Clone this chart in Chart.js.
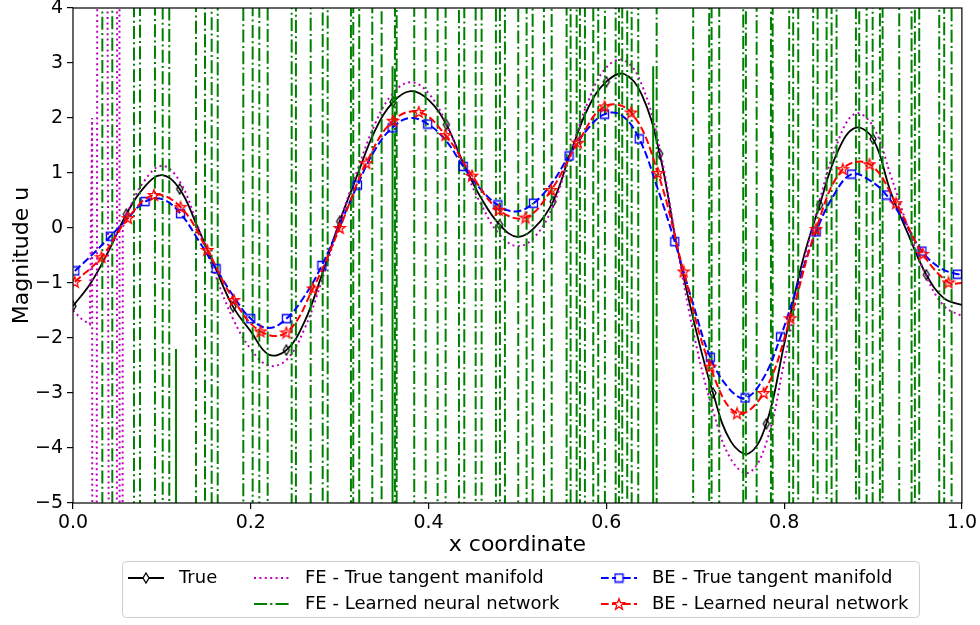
<!DOCTYPE html>
<html>
<head>
<meta charset="utf-8">
<script src="https://cdn.jsdelivr.net/npm/chart.js@4.4.1/dist/chart.umd.min.js"></script>
<style>
  html, body { margin: 0; padding: 0; background: #fff; }
  #wrap { width: 980px; height: 625px; }
</style>
</head>
<body>
<div id="wrap"><canvas id="chart" width="980" height="625"></canvas></div>
<script>
// Solution profiles u(x) - true solution vs FE / BE integrators

// True solution (black, thin diamonds every 3rd point)
const trueX = [0.00, 0.02, 0.04, 0.06, 0.08, 0.10, 0.12, 0.14, 0.16, 0.18,
               0.20, 0.22, 0.24, 0.26, 0.28, 0.30, 0.32, 0.34, 0.36, 0.38,
               0.40, 0.42, 0.44, 0.46, 0.48, 0.50, 0.52, 0.54, 0.56, 0.58,
               0.60, 0.62, 0.64, 0.66, 0.68, 0.70, 0.72, 0.74, 0.76, 0.78,
               0.80, 0.82, 0.84, 0.86, 0.88, 0.90, 0.92, 0.94, 0.96, 0.98, 1.00];
const trueY = [-1.42, -1.00, -0.42, 0.25, 0.74, 0.96, 0.71, 0.02, -0.72, -1.43,
               -1.88, -2.30, -2.22, -1.72, -0.85, 0.12, 0.97, 1.78, 2.29, 2.49,
               2.33, 1.88, 1.15, 0.52, 0.06, -0.16, 0.02, 0.48, 1.38, 2.20,
               2.66, 2.80, 2.42, 1.35, -0.37, -1.80, -3.00, -3.88, -4.10, -3.56,
               -2.12, -0.65, 0.42, 1.38, 1.82, 1.62, 0.65, -0.13, -0.85, -1.28, -1.40];

// FE - true tangent manifold (magenta dotted): spurious spikes near the left boundary
const fetSpikeX = [0.000, 0.010, 0.019, 0.0215, 0.023, 0.031, 0.0478, 0.0512, 0.0535, 0.056, 0.060];
const fetSpikeY = [-1.50, -1.66, -1.75, 2.00, -60, 60, -60, 60, -60, 0.00, 0.25];
const fetX = [0.06, 0.08, 0.10, 0.12, 0.14, 0.16, 0.18, 0.20, 0.22, 0.24,
              0.26, 0.28, 0.30, 0.32, 0.34, 0.36, 0.38, 0.40, 0.42, 0.44,
              0.46, 0.48, 0.50, 0.52, 0.54, 0.56, 0.58, 0.60, 0.62, 0.64,
              0.66, 0.68, 0.70, 0.72, 0.74, 0.76, 0.78, 0.80, 0.82, 0.84,
              0.86, 0.88, 0.90, 0.92, 0.94, 0.96, 0.98, 1.00];
const fetY = [0.25, 0.85, 1.13, 0.85, 0.05, -0.85, -1.65, -2.20, -2.50, -2.40,
              -1.85, -0.95, 0.10, 1.05, 1.90, 2.45, 2.65, 2.45, 1.90, 1.10,
              0.40, -0.12, -0.33, -0.15, 0.40, 1.38, 2.32, 2.92, 3.05, 2.60,
              1.45, -0.38, -2.05, -3.32, -4.20, -4.45, -3.90, -2.45, -0.80, 0.50,
              1.55, 2.08, 1.85, 0.95, -0.02, -0.88, -1.42, -1.60];

// FE - learned neural network (green dash-dot): blows up, every sign flip crosses the whole axis
const felX = [0.0330, 0.0442, 0.0686, 0.0754, 0.0922, 0.1009, 0.1083, 0.1384, 0.1485, 0.1560,
              0.1628, 0.1916, 0.2021, 0.2096, 0.2190, 0.2460, 0.2508, 0.2674, 0.2809, 0.2865,
              0.3127, 0.3153, 0.3220, 0.3367, 0.3472, 0.3622, 0.3641, 0.3839, 0.3967, 0.4102,
              0.4192, 0.4342, 0.4402, 0.4530, 0.4597, 0.4758, 0.4803, 0.4859, 0.5009, 0.5103,
              0.5171, 0.5298, 0.5385, 0.5553, 0.5598, 0.5666, 0.5703, 0.5759, 0.5853, 0.5909,
              0.5984, 0.6105, 0.6142, 0.6179, 0.6235, 0.6285, 0.6359, 0.6566, 0.6977, 0.7157,
              0.7184, 0.7270, 0.7540, 0.7570, 0.7691, 0.7852, 0.7871, 0.8057, 0.8102, 0.8159,
              0.8327, 0.8377, 0.8478, 0.8534, 0.8590, 0.8808, 0.8845, 0.8928, 0.8996, 0.9078,
              0.9108, 0.9295, 0.9434, 0.9471, 0.9520, 0.9745, 0.9801, 0.9884];
const felBlowUp = 60;            // magnitude far outside the plotted range
const felPartialX = [0.1159, 0.3595, 0.6527];
const felPartialY = [-2.20, 2.94, 2.94];

// BE - true tangent manifold (blue dashed, squares on even points)
const betX = [0.002, 0.022, 0.042, 0.062, 0.081, 0.101, 0.121, 0.141, 0.161, 0.181,
              0.200, 0.220, 0.240, 0.260, 0.280, 0.300, 0.320, 0.339, 0.359, 0.379,
              0.399, 0.419, 0.439, 0.459, 0.478, 0.498, 0.518, 0.538, 0.558, 0.578,
              0.598, 0.617, 0.637, 0.657, 0.677, 0.697, 0.717, 0.737, 0.756, 0.776,
              0.796, 0.816, 0.836, 0.856, 0.876, 0.895, 0.915, 0.935, 0.955, 0.975,
              0.995, 1.000];
const betY = [-0.78, -0.48, -0.15, 0.18, 0.48, 0.52, 0.26, -0.22, -0.74, -1.25,
              -1.65, -1.82, -1.65, -1.25, -0.68, 0.05, 0.78, 1.40, 1.82, 2.00,
              1.89, 1.60, 1.12, 0.70, 0.42, 0.30, 0.45, 0.80, 1.31, 1.78,
              2.07, 2.05, 1.62, 0.75, -0.25, -1.35, -2.35, -2.90, -3.09, -2.75,
              -1.98, -1.00, -0.07, 0.60, 0.98, 0.88, 0.60, 0.12, -0.42, -0.72,
              -0.84, -0.82];

// BE - learned neural network (red dashed, stars)
const belX = [0.002, 0.032, 0.062, 0.091, 0.121, 0.151, 0.181, 0.211, 0.240, 0.270,
              0.300, 0.330, 0.360, 0.389, 0.419, 0.449, 0.479, 0.509, 0.538, 0.568,
              0.598, 0.628, 0.658, 0.687, 0.717, 0.747, 0.777, 0.807, 0.836, 0.866,
              0.896, 0.926, 0.956, 0.985, 1.000];
const belY = [-0.98, -0.53, 0.18, 0.60, 0.38, -0.40, -1.31, -1.88, -1.90, -1.10,
              0.00, 1.18, 1.95, 2.11, 1.69, 0.95, 0.33, 0.19, 0.69, 1.55,
              2.21, 2.10, 1.00, -0.79, -2.52, -3.37, -3.00, -1.64, -0.02, 1.07,
              1.16, 0.45, -0.47, -0.99, -1.00];

const legendLabels = ['True', 'FE - True tangent manifold', 'FE - Learned neural network',
                      'BE - True tangent manifold', 'BE - Learned neural network'];

const FONT = '"DejaVu Sans", sans-serif';
Chart.defaults.font.family = FONT;
Chart.defaults.color = '#000';

function toPoints(xs, ys) {
    return xs.map((x, i) => ({ x: x, y: ys[i] }));
}

// FE learned: consecutive points jump between +blowup and -blowup at the same x
function blowUpPoints(xs, mag) {
    const pts = [];
    xs.forEach((x, i) => {
        const s = i % 2 === 0 ? 1 : -1;
        pts.push({ x: x, y: s * mag });
        pts.push({ x: x, y: -s * mag });
    });
    return pts;
}

function partialPoints(xs, ys, mag) {
    const pts = [];
    xs.forEach((x, i) => {
        pts.push({ x: x, y: ys[i] });
        pts.push({ x: x, y: -mag });
        pts.push({ x: x, y: null });
    });
    return pts;
}

// hollow marker images (matplotlib style)
function makeMarker(kind, color) {
    const c = document.createElement('canvas');
    const size = kind === 'star' ? 14 : (kind === 'diamond' ? 12 : 11);
    c.width = size; c.height = size;
    const g = c.getContext('2d');
    g.strokeStyle = color;
    g.lineWidth = 1.3;
    g.beginPath();
    const m = size / 2;
    if (kind === 'diamond') {
        g.moveTo(m, m - 5); g.lineTo(m + 3, m); g.lineTo(m, m + 5); g.lineTo(m - 3, m);
    } else if (kind === 'square') {
        g.rect(m - 4, m - 4, 8, 8);
    } else {
        for (let k = 0; k < 10; k++) {
            const r = k % 2 === 0 ? 5.8 : 2.4;
            const a = -Math.PI / 2 + k * Math.PI / 5;
            const px = m + r * Math.cos(a), py = m + 0.5 + r * Math.sin(a);
            if (k === 0) g.moveTo(px, py); else g.lineTo(px, py);
        }
    }
    g.closePath();
    g.stroke();
    return c;
}

const diamondImg = makeMarker('diamond', '#000000');
const squareImg = makeMarker('square', '#0000ff');
const starImg = makeMarker('star', '#ff0000');

const legendEntries = [
    { label: legendLabels[0], col: 0, row: 0, color: '#000000', dash: [], marker: diamondImg },
    { label: legendLabels[1], col: 1, row: 0, color: '#bf00bf', dash: [2, 3.4], marker: null },
    { label: legendLabels[2], col: 1, row: 1, color: '#008000', dash: [13, 3.3, 2, 3.3], marker: null },
    { label: legendLabels[3], col: 2, row: 0, color: '#0000ff', dash: [7.7, 3.3], marker: squareImg },
    { label: legendLabels[4], col: 2, row: 1, color: '#ff0000', dash: [7.7, 3.3], marker: starImg }
];

const mplLegend = {
    id: 'mplLegend',
    afterDraw(chart) {
        const ctx = chart.ctx;
        const colX = [128, 254, 601];
        const rowY = [578, 604];
        ctx.save();
        ctx.beginPath();
        ctx.roundRect(122.5, 561.5, 797, 56, 4);
        ctx.fillStyle = 'rgba(255,255,255,0.8)';
        ctx.fill();
        ctx.strokeStyle = '#cccccc';
        ctx.lineWidth = 1;
        ctx.stroke();
        legendEntries.forEach(e => {
            const hx = colX[e.col], y = rowY[e.row];
            ctx.strokeStyle = e.color;
            ctx.lineWidth = e.color === '#000000' ? 1.8 : 2;
            ctx.setLineDash(e.dash);
            ctx.beginPath();
            ctx.moveTo(hx, y);
            ctx.lineTo(hx + 36, y);
            ctx.stroke();
            ctx.setLineDash([]);
            if (e.marker) {
                ctx.fillStyle = '#ffffff';
                ctx.fillRect(hx + 18 - 3, y - 3, 6, 6);
                ctx.drawImage(e.marker, hx + 18 - e.marker.width / 2, y - e.marker.height / 2);
            }
            ctx.fillStyle = '#000';
            ctx.font = '18px ' + FONT;
            ctx.textBaseline = 'middle';
            ctx.fillText(e.label, hx + 51, y);
        });
        ctx.restore();
    }
};

const frame = {
    id: 'frame',
    afterDatasetsDraw(chart) {
        const a = chart.chartArea;
        const ctx = chart.ctx;
        ctx.save();
        ctx.strokeStyle = '#000';
        ctx.lineWidth = 1.2;
        ctx.strokeRect(a.left, a.top, a.right - a.left, a.bottom - a.top);
        ctx.restore();
    }
};

const commonLine = { showLine: true, fill: false, pointHoverRadius: 0 };

new Chart(document.getElementById('chart'), {
    type: 'scatter',
    data: {
        datasets: [
            Object.assign({}, commonLine, {
                label: legendLabels[0],
                data: toPoints(trueX, trueY),
                borderColor: '#000000',
                borderWidth: 1.8,
                tension: 0.4,
                pointStyle: diamondImg,
                pointRadius: c => (c.dataIndex % 3 === 0 ? 5 : 0),
                order: 5
            }),
            Object.assign({}, commonLine, {
                label: legendLabels[1],
                data: toPoints(fetSpikeX, fetSpikeY),
                borderColor: '#bf00bf',
                borderWidth: 2,
                borderDash: [2, 3.4],
                tension: 0,
                pointRadius: 0,
                order: 4
            }),
            Object.assign({}, commonLine, {
                label: legendLabels[1] + ' (smooth part)',
                data: toPoints(fetX, fetY),
                borderColor: '#bf00bf',
                borderWidth: 2,
                borderDash: [2, 3.4],
                tension: 0.4,
                pointRadius: 0,
                order: 4
            }),
            Object.assign({}, commonLine, {
                label: legendLabels[2],
                data: blowUpPoints(felX, felBlowUp),
                borderColor: '#008000',
                borderWidth: 2,
                borderDash: [13, 3.3, 2, 3.3],
                tension: 0,
                pointRadius: 0,
                order: 3
            }),
            Object.assign({}, commonLine, {
                label: legendLabels[2] + ' (overlapping)',
                data: partialPoints(felPartialX, felPartialY, felBlowUp),
                borderColor: '#008000',
                borderWidth: 2,
                tension: 0,
                pointRadius: 0,
                spanGaps: false,
                order: 3
            }),
            Object.assign({}, commonLine, {
                label: legendLabels[3],
                data: toPoints(betX, betY),
                borderColor: '#0000ff',
                borderWidth: 2,
                borderDash: [7.7, 3.3],
                tension: 0.4,
                pointStyle: squareImg,
                pointRadius: c => (c.dataIndex % 2 === 0 && c.dataIndex < betX.length - 1 ? 5 : 0),
                order: 2
            }),
            Object.assign({}, commonLine, {
                label: legendLabels[4],
                data: toPoints(belX, belY),
                borderColor: '#ff0000',
                borderWidth: 2,
                borderDash: [7.7, 3.3],
                tension: 0.4,
                pointStyle: starImg,
                pointRadius: c => (c.dataIndex < belX.length - 1 ? 5 : 0),
                order: 1
            })
        ]
    },
    options: {
        responsive: false,
        animation: false,
        devicePixelRatio: 1,
        layout: { padding: { left: 0, right: 18, top: 8, bottom: 65 } },
        plugins: {
            legend: { display: false },
            tooltip: { enabled: false }
        },
        scales: {
            x: {
                type: 'linear',
                min: 0,
                max: 1,
                afterFit: s => { s.height = 57; },
                border: { display: false },
                grid: { drawOnChartArea: false, drawTicks: true, tickLength: 6, color: '#000', lineWidth: 1.2 },
                ticks: {
                    stepSize: 0.2,
                    padding: 3,
                    font: { size: 19 },
                    callback: v => v.toFixed(1)
                },
                title: {
                    display: true,
                    text: 'x coordinate',
                    font: { size: 22 },
                    padding: { top: 0, bottom: 2 }
                }
            },
            y: {
                min: -5,
                max: 4,
                afterFit: s => { s.width = 73; s.paddingTop = 0; s.paddingBottom = 0; },
                border: { display: false },
                grid: { drawOnChartArea: false, drawTicks: true, tickLength: 6, color: '#000', lineWidth: 1.2 },
                ticks: {
                    stepSize: 1,
                    padding: 4,
                    font: { size: 19 },
                    callback: v => (v < 0 ? '\u2212' + Math.abs(v) : String(v))
                },
                title: {
                    display: true,
                    text: 'Magnitude u',
                    font: { size: 22 },
                    padding: { top: 9, bottom: 0 }
                }
            }
        }
    },
    plugins: [frame, mplLegend]
});
</script>
</body>
</html>
